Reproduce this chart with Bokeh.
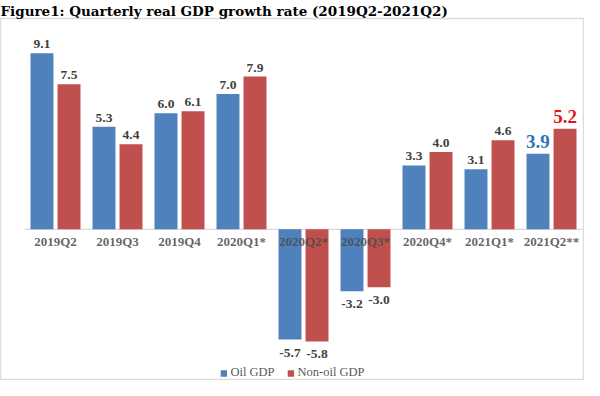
from bokeh.plotting import figure
from bokeh.models import ColumnDataSource, Range1d, Legend, LegendItem
from bokeh.core.properties import value
from bokeh.embed import file_html
from bokeh.resources import INLINE

quarters = ["2019Q2", "2019Q3", "2019Q4", "2020Q1*", "2020Q2*", "2020Q3*",
            "2020Q4*", "2021Q1*", "2021Q2**"]
oil_gdp = [9.1, 5.3, 6.0, 7.0, -5.7, -3.2, 3.3, 3.1, 3.9]
non_oil_gdp = [7.5, 4.4, 6.1, 7.9, -5.8, -3.0, 4.0, 4.6, 5.2]

BLUE = "#4f81bd"
RED = "#c0504d"
LABEL = "#404040"
SERIF = "Liberation Serif"

n = len(quarters)
idx = list(range(n))
dx = 0.218
bw = 0.37

p = figure(width=584, height=380, output_backend="svg", toolbar_location=None,
           x_range=Range1d(-0.887, 8.532), y_range=Range1d(-7.82, 10.9),
           min_border_left=0, min_border_right=0, min_border_bottom=0, min_border_top=0,
           title="Figure1: Quarterly real GDP growth rate (2019Q2-2021Q2)")
p.title.text_font = "DejaVu Serif"
p.title.text_font_style = "bold"
p.title.text_font_size = "13.5px"
p.title.text_color = "#000000"
p.title.standoff = 0
p.title.offset = 0
p.axis.visible = False
p.xgrid.visible = False
p.ygrid.visible = False
p.outline_line_color = "#dcdcdc"
p.outline_line_width = 1.5
p.background_fill_color = "white"
p.border_fill_color = "white"

# zero line
p.segment(x0=[idx[0] - 0.5], x1=[idx[-1] + 0.5], y0=[0], y1=[0],
          line_color="#d9d9d9", line_width=1.2)

src = ColumnDataSource(dict(
    x_oil=[i - dx for i in idx], x_non=[i + dx for i in idx],
    oil=oil_gdp, non=non_oil_gdp,
))

r1 = p.vbar(x="x_oil", top="oil", bottom=0, width=bw, source=src,
            fill_color=BLUE, line_color=None)
r2 = p.vbar(x="x_non", top="non", bottom=0, width=bw, source=src,
            fill_color=RED, line_color=None)

# category labels just under the zero line
p.text(x=idx, y=[0] * n, text=quarters, text_align="center", text_baseline="top",
       y_offset=5, text_font=value(SERIF), text_font_style="bold",
       text_font_size="13px", text_color="#4a4a4a", text_alpha=0.85)

# value labels (highlighted last quarter)
hi = n - 1
def add_labels(xs, vals, hicolor):
    pos_x = [xs[i] for i in range(n) if vals[i] >= 0 and i != hi]
    pos_v = [vals[i] for i in range(n) if vals[i] >= 0 and i != hi]
    neg_x = [xs[i] for i in range(n) if vals[i] < 0]
    neg_v = [vals[i] for i in range(n) if vals[i] < 0]
    p.text(x=pos_x, y=pos_v, text=[f"{v:.1f}" for v in pos_v], text_align="center",
           text_baseline="bottom", y_offset=-5, text_font=value(SERIF),
           text_font_style="bold", text_font_size="13.5px", text_color=LABEL)
    p.text(x=neg_x, y=neg_v, text=[f"{v:.1f}" for v in neg_v], text_align="center",
           text_baseline="top", y_offset=9, text_font=value(SERIF),
           text_font_style="bold", text_font_size="13.5px", text_color=LABEL)
    p.text(x=[xs[hi]], y=[vals[hi]], text=[f"{vals[hi]:.1f}"], text_align="center",
           text_baseline="bottom", y_offset=-6, text_font=value(SERIF),
           text_font_style="bold", text_font_size="19px", text_color=hicolor)

add_labels([i - dx for i in idx], oil_gdp, "#2e75b6")
add_labels([i + dx for i in idx], non_oil_gdp, "#e3161b")

legend = Legend(items=[LegendItem(label="Oil GDP", renderers=[r1]),
                       LegendItem(label="Non-oil GDP", renderers=[r2])],
                location="bottom_center", orientation="horizontal",
                border_line_color=None, background_fill_alpha=0,
                label_text_font=SERIF, label_text_font_size="12.5px",
                label_text_color="#595959", glyph_width=8, glyph_height=8,
                label_standoff=3, spacing=12, margin=0, padding=3,
                label_height=12)
p.add_layout(legend)

open("out.html", "w").write(file_html(p, INLINE))
